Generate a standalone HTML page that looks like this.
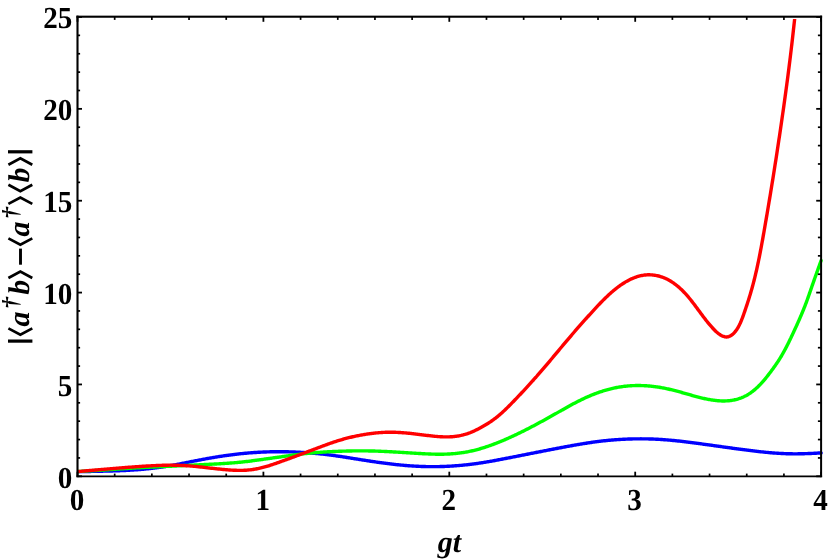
<!DOCTYPE html>
<html><head><meta charset="utf-8"><title>plot</title>
<style>
html,body{margin:0;padding:0;background:#fff;}
body{width:830px;height:560px;overflow:hidden;font-family:"Liberation Serif",serif;}
svg{display:block;will-change:transform;}
text{text-rendering:geometricPrecision;font-family:"Liberation Serif",serif;font-weight:bold;font-size:30px;fill:#000;}
.bi{font-style:italic;}
.dg{font-style:italic;font-size:23px;}
</style></head><body>
<svg width="830" height="560" viewBox="0 0 830 560">
<rect width="830" height="560" fill="#fff"/>
<defs><clipPath id="cp"><rect x="77.5" y="19" width="752.5" height="470"/></clipPath></defs>
<g clip-path="url(#cp)"><g transform="translate(0,0.4)" fill="none" stroke-width="3.4" stroke-linejoin="round" stroke-linecap="round">
<path stroke="#0000ff" d="M77.50,471.24 L78.50,471.23 L79.50,471.21 L80.50,471.20 L81.50,471.18 L82.50,471.16 L83.50,471.15 L84.50,471.13 L85.50,471.11 L86.50,471.10 L87.50,471.08 L88.50,471.06 L89.50,471.05 L90.50,471.03 L91.50,471.01 L92.50,470.99 L93.50,470.98 L94.51,470.96 L95.51,470.94 L96.51,470.92 L97.51,470.90 L98.51,470.88 L99.51,470.86 L100.51,470.84 L101.51,470.82 L102.51,470.79 L103.51,470.77 L104.51,470.75 L105.51,470.72 L106.51,470.70 L107.51,470.67 L108.51,470.65 L109.51,470.62 L110.51,470.59 L111.51,470.56 L112.51,470.53 L113.51,470.50 L114.51,470.47 L115.51,470.43 L116.51,470.40 L117.51,470.36 L118.51,470.33 L119.51,470.29 L120.51,470.25 L121.51,470.21 L122.51,470.17 L123.51,470.12 L124.51,470.08 L125.50,470.03 L126.50,469.98 L127.50,469.93 L128.50,469.88 L129.50,469.82 L130.50,469.76 L131.50,469.71 L132.49,469.64 L133.49,469.58 L134.49,469.51 L135.49,469.45 L136.48,469.38 L137.48,469.30 L138.48,469.23 L139.47,469.15 L140.47,469.07 L141.47,468.99 L142.46,468.90 L143.46,468.81 L144.45,468.72 L145.45,468.62 L146.44,468.53 L147.44,468.43 L148.43,468.32 L149.42,468.22 L150.42,468.11 L151.41,467.99 L152.40,467.88 L153.39,467.76 L154.39,467.64 L155.38,467.51 L156.37,467.38 L157.36,467.25 L158.35,467.12 L159.34,466.98 L160.33,466.84 L161.32,466.70 L162.30,466.55 L163.29,466.40 L164.28,466.25 L165.27,466.10 L166.25,465.94 L167.24,465.78 L168.23,465.62 L169.21,465.45 L170.20,465.28 L171.18,465.11 L172.17,464.94 L173.15,464.76 L174.13,464.58 L175.12,464.40 L176.10,464.22 L177.08,464.04 L178.07,463.85 L179.05,463.66 L180.03,463.47 L181.01,463.28 L181.99,463.09 L182.97,462.89 L183.96,462.70 L184.94,462.50 L185.92,462.31 L186.90,462.11 L187.88,461.92 L188.86,461.72 L189.84,461.52 L190.82,461.33 L191.80,461.13 L192.78,460.94 L193.77,460.74 L194.75,460.55 L195.73,460.36 L196.71,460.17 L197.69,459.97 L198.68,459.78 L199.66,459.59 L200.64,459.41 L201.62,459.22 L202.61,459.03 L203.59,458.85 L204.57,458.66 L205.56,458.48 L206.54,458.30 L207.52,458.12 L208.51,457.95 L209.49,457.77 L210.48,457.60 L211.46,457.43 L212.45,457.26 L213.44,457.09 L214.42,456.92 L215.41,456.76 L216.40,456.60 L217.38,456.44 L218.37,456.28 L219.36,456.12 L220.35,455.97 L221.34,455.82 L222.33,455.67 L223.31,455.52 L224.30,455.38 L225.29,455.23 L226.28,455.09 L227.27,454.95 L228.27,454.82 L229.26,454.68 L230.25,454.55 L231.24,454.42 L232.23,454.30 L233.22,454.17 L234.22,454.05 L235.21,453.93 L236.20,453.81 L237.20,453.70 L238.19,453.59 L239.18,453.48 L240.18,453.37 L241.17,453.27 L242.17,453.17 L243.16,453.07 L244.16,452.97 L245.15,452.88 L246.15,452.79 L247.15,452.70 L248.14,452.61 L249.14,452.53 L250.13,452.45 L251.13,452.37 L252.13,452.30 L253.13,452.23 L254.12,452.16 L255.12,452.09 L256.12,452.03 L257.12,451.97 L258.12,451.91 L259.12,451.85 L260.11,451.80 L261.11,451.75 L262.11,451.70 L263.11,451.66 L264.11,451.61 L265.11,451.57 L266.11,451.54 L267.11,451.50 L268.11,451.47 L269.11,451.44 L270.11,451.41 L271.11,451.39 L272.11,451.37 L273.11,451.35 L274.11,451.33 L275.11,451.32 L276.11,451.31 L277.11,451.30 L278.11,451.29 L279.11,451.29 L280.11,451.29 L281.11,451.30 L282.11,451.30 L283.11,451.31 L284.11,451.32 L285.11,451.34 L286.11,451.36 L287.11,451.38 L288.11,451.40 L289.11,451.43 L290.11,451.46 L291.11,451.49 L292.10,451.52 L293.10,451.56 L294.10,451.60 L295.10,451.64 L296.10,451.68 L297.10,451.73 L298.10,451.78 L299.10,451.83 L300.10,451.88 L301.10,451.94 L302.09,452.00 L303.09,452.06 L304.09,452.12 L305.09,452.19 L306.09,452.25 L307.08,452.32 L308.08,452.40 L309.08,452.47 L310.08,452.55 L311.07,452.63 L312.07,452.71 L313.07,452.79 L314.06,452.88 L315.06,452.97 L316.05,453.06 L317.05,453.15 L318.04,453.25 L319.04,453.35 L320.03,453.45 L321.03,453.56 L322.02,453.66 L323.02,453.77 L324.01,453.88 L325.00,454.00 L326.00,454.11 L326.99,454.23 L327.98,454.35 L328.97,454.48 L329.97,454.61 L330.96,454.73 L331.95,454.87 L332.94,455.00 L333.93,455.14 L334.92,455.27 L335.91,455.42 L336.90,455.56 L337.89,455.70 L338.88,455.85 L339.87,455.99 L340.86,456.14 L341.85,456.29 L342.84,456.44 L343.82,456.59 L344.81,456.75 L345.80,456.90 L346.79,457.06 L347.78,457.21 L348.77,457.37 L349.75,457.52 L350.74,457.68 L351.73,457.84 L352.72,458.00 L353.71,458.16 L354.69,458.31 L355.68,458.47 L356.67,458.63 L357.66,458.79 L358.65,458.95 L359.63,459.10 L360.62,459.26 L361.61,459.42 L362.60,459.58 L363.59,459.73 L364.57,459.89 L365.56,460.04 L366.55,460.19 L367.54,460.35 L368.53,460.50 L369.52,460.65 L370.51,460.80 L371.50,460.95 L372.49,461.10 L373.48,461.24 L374.47,461.39 L375.46,461.53 L376.45,461.68 L377.44,461.82 L378.43,461.96 L379.42,462.10 L380.41,462.23 L381.40,462.37 L382.39,462.51 L383.38,462.64 L384.37,462.77 L385.37,462.90 L386.36,463.03 L387.35,463.15 L388.34,463.28 L389.34,463.40 L390.33,463.52 L391.32,463.64 L392.32,463.75 L393.31,463.87 L394.30,463.98 L395.30,464.09 L396.29,464.19 L397.29,464.30 L398.28,464.40 L399.28,464.50 L400.27,464.60 L401.27,464.69 L402.27,464.78 L403.26,464.87 L404.26,464.96 L405.25,465.05 L406.25,465.13 L407.25,465.21 L408.24,465.29 L409.24,465.36 L410.24,465.43 L411.24,465.50 L412.23,465.57 L413.23,465.63 L414.23,465.69 L415.23,465.75 L416.23,465.81 L417.23,465.86 L418.22,465.91 L419.22,465.96 L420.22,466.00 L421.22,466.04 L422.22,466.08 L423.22,466.11 L424.22,466.14 L425.22,466.17 L426.22,466.19 L427.22,466.21 L428.22,466.23 L429.22,466.24 L430.22,466.25 L431.22,466.26 L432.22,466.26 L433.22,466.26 L434.21,466.26 L435.21,466.25 L436.21,466.24 L437.21,466.23 L438.21,466.21 L439.21,466.19 L440.21,466.16 L441.21,466.13 L442.21,466.10 L443.21,466.07 L444.21,466.03 L445.21,465.99 L446.21,465.95 L447.21,465.90 L448.21,465.85 L449.20,465.80 L450.20,465.74 L451.20,465.68 L452.20,465.62 L453.20,465.55 L454.19,465.48 L455.19,465.41 L456.19,465.34 L457.18,465.26 L458.18,465.18 L459.18,465.09 L460.17,465.01 L461.17,464.92 L462.17,464.82 L463.16,464.73 L464.16,464.63 L465.15,464.53 L466.14,464.42 L467.14,464.31 L468.13,464.20 L469.12,464.08 L470.12,463.97 L471.11,463.84 L472.10,463.72 L473.09,463.59 L474.08,463.46 L475.07,463.33 L476.06,463.19 L477.05,463.05 L478.04,462.91 L479.03,462.77 L480.02,462.62 L481.01,462.47 L482.00,462.32 L482.99,462.16 L483.97,462.00 L484.96,461.84 L485.95,461.68 L486.93,461.52 L487.92,461.35 L488.91,461.18 L489.89,461.01 L490.88,460.84 L491.86,460.66 L492.85,460.48 L493.83,460.31 L494.81,460.13 L495.80,459.94 L496.78,459.76 L497.76,459.58 L498.75,459.39 L499.73,459.21 L500.71,459.02 L501.70,458.83 L502.68,458.64 L503.66,458.46 L504.64,458.27 L505.63,458.08 L506.61,457.89 L507.59,457.70 L508.57,457.51 L509.55,457.31 L510.54,457.12 L511.52,456.93 L512.50,456.74 L513.48,456.54 L514.46,456.35 L515.44,456.16 L516.43,455.97 L517.41,455.77 L518.39,455.58 L519.37,455.38 L520.35,455.19 L521.33,455.00 L522.31,454.80 L523.30,454.61 L524.28,454.41 L525.26,454.22 L526.24,454.03 L527.22,453.83 L528.20,453.64 L529.18,453.44 L530.17,453.25 L531.15,453.05 L532.13,452.86 L533.11,452.67 L534.09,452.47 L535.07,452.28 L536.05,452.08 L537.04,451.89 L538.02,451.70 L539.00,451.50 L539.98,451.31 L540.96,451.12 L541.94,450.92 L542.92,450.73 L543.91,450.54 L544.89,450.34 L545.87,450.15 L546.85,449.96 L547.83,449.77 L548.81,449.58 L549.80,449.39 L550.78,449.19 L551.76,449.00 L552.74,448.81 L553.73,448.62 L554.71,448.43 L555.69,448.25 L556.67,448.06 L557.65,447.87 L558.64,447.68 L559.62,447.50 L560.60,447.31 L561.59,447.12 L562.57,446.94 L563.55,446.75 L564.54,446.57 L565.52,446.39 L566.50,446.21 L567.49,446.03 L568.47,445.85 L569.46,445.67 L570.44,445.49 L571.42,445.31 L572.41,445.13 L573.39,444.96 L574.38,444.78 L575.36,444.61 L576.35,444.44 L577.33,444.27 L578.32,444.10 L579.31,443.93 L580.29,443.76 L581.28,443.60 L582.27,443.43 L583.25,443.27 L584.24,443.11 L585.23,442.95 L586.21,442.80 L587.20,442.64 L588.19,442.49 L589.18,442.34 L590.17,442.19 L591.16,442.05 L592.15,441.90 L593.14,441.76 L594.13,441.63 L595.12,441.49 L596.11,441.36 L597.10,441.23 L598.09,441.10 L599.08,440.98 L600.08,440.86 L601.07,440.74 L602.06,440.63 L603.06,440.52 L604.05,440.41 L605.04,440.30 L606.04,440.20 L607.03,440.10 L608.03,440.00 L609.02,439.90 L610.02,439.81 L611.02,439.72 L612.01,439.64 L613.01,439.56 L614.01,439.48 L615.00,439.40 L616.00,439.33 L617.00,439.25 L617.99,439.19 L618.99,439.12 L619.99,439.06 L620.99,439.00 L621.99,438.94 L622.99,438.89 L623.99,438.84 L624.98,438.79 L625.98,438.75 L626.98,438.71 L627.98,438.67 L628.98,438.63 L629.98,438.60 L630.98,438.57 L631.98,438.54 L632.98,438.51 L633.98,438.49 L634.98,438.47 L635.98,438.46 L636.98,438.45 L637.98,438.44 L638.98,438.43 L639.98,438.43 L640.98,438.42 L641.98,438.43 L642.98,438.43 L643.98,438.44 L644.98,438.45 L645.98,438.47 L646.98,438.49 L647.98,438.51 L648.98,438.53 L649.98,438.56 L650.98,438.59 L651.97,438.63 L652.97,438.66 L653.97,438.71 L654.97,438.75 L655.97,438.80 L656.97,438.85 L657.97,438.90 L658.97,438.96 L659.96,439.02 L660.96,439.08 L661.96,439.14 L662.96,439.21 L663.95,439.28 L664.95,439.36 L665.95,439.43 L666.94,439.51 L667.94,439.60 L668.94,439.68 L669.93,439.77 L670.93,439.86 L671.92,439.95 L672.92,440.05 L673.92,440.15 L674.91,440.25 L675.91,440.35 L676.90,440.45 L677.89,440.56 L678.89,440.66 L679.88,440.77 L680.88,440.88 L681.87,441.00 L682.87,441.11 L683.86,441.23 L684.85,441.34 L685.85,441.46 L686.84,441.58 L687.83,441.70 L688.82,441.83 L689.82,441.95 L690.81,442.08 L691.80,442.20 L692.79,442.33 L693.79,442.46 L694.78,442.59 L695.77,442.72 L696.76,442.85 L697.75,442.98 L698.74,443.12 L699.74,443.25 L700.73,443.39 L701.72,443.52 L702.71,443.66 L703.70,443.79 L704.69,443.93 L705.68,444.07 L706.67,444.20 L707.66,444.34 L708.65,444.48 L709.65,444.62 L710.64,444.76 L711.63,444.90 L712.62,445.04 L713.61,445.17 L714.60,445.31 L715.59,445.45 L716.58,445.59 L717.57,445.73 L718.56,445.87 L719.55,446.01 L720.54,446.15 L721.53,446.29 L722.52,446.42 L723.51,446.56 L724.51,446.70 L725.50,446.84 L726.49,446.98 L727.48,447.11 L728.47,447.25 L729.46,447.39 L730.45,447.53 L731.44,447.66 L732.43,447.80 L733.42,447.94 L734.42,448.07 L735.41,448.21 L736.40,448.34 L737.39,448.48 L738.38,448.61 L739.37,448.74 L740.36,448.88 L741.36,449.01 L742.35,449.14 L743.34,449.27 L744.33,449.40 L745.32,449.53 L746.32,449.65 L747.31,449.78 L748.30,449.91 L749.29,450.03 L750.29,450.15 L751.28,450.28 L752.27,450.40 L753.27,450.52 L754.26,450.63 L755.25,450.75 L756.25,450.87 L757.24,450.98 L758.24,451.09 L759.23,451.20 L760.22,451.31 L761.22,451.42 L762.21,451.53 L763.21,451.63 L764.20,451.73 L765.20,451.83 L766.19,451.93 L767.19,452.02 L768.18,452.12 L769.18,452.21 L770.18,452.29 L771.17,452.38 L772.17,452.46 L773.17,452.54 L774.16,452.62 L775.16,452.69 L776.16,452.76 L777.15,452.83 L778.15,452.90 L779.15,452.96 L780.15,453.01 L781.14,453.07 L782.14,453.12 L783.14,453.16 L784.14,453.21 L785.14,453.25 L786.13,453.28 L787.13,453.32 L788.13,453.34 L789.13,453.37 L790.13,453.39 L791.13,453.41 L792.13,453.42 L793.13,453.43 L794.13,453.43 L795.12,453.44 L796.12,453.44 L797.12,453.43 L798.12,453.42 L799.12,453.41 L800.12,453.39 L801.12,453.37 L802.12,453.35 L803.12,453.32 L804.12,453.30 L805.12,453.27 L806.12,453.23 L807.12,453.19 L808.11,453.16 L809.11,453.11 L810.11,453.07 L811.11,453.03 L812.11,452.98 L813.11,452.93 L814.11,452.88 L815.11,452.83 L816.11,452.78 L817.11,452.73 L818.11,452.67 L819.10,452.62 L820.10,452.57 L821.10,452.51"/>
<path stroke="#00ff00" d="M77.50,471.20 L78.50,471.14 L79.50,471.08 L80.50,471.02 L81.49,470.96 L82.49,470.89 L83.49,470.83 L84.49,470.77 L85.49,470.71 L86.49,470.65 L87.49,470.59 L88.49,470.52 L89.48,470.46 L90.48,470.40 L91.48,470.34 L92.48,470.28 L93.48,470.21 L94.48,470.15 L95.48,470.09 L96.47,470.03 L97.47,469.97 L98.47,469.90 L99.47,469.84 L100.47,469.78 L101.47,469.72 L102.47,469.65 L103.47,469.59 L104.46,469.53 L105.46,469.47 L106.46,469.40 L107.46,469.34 L108.46,469.28 L109.46,469.21 L110.46,469.15 L111.45,469.09 L112.45,469.03 L113.45,468.96 L114.45,468.90 L115.45,468.83 L116.45,468.77 L117.45,468.71 L118.44,468.64 L119.44,468.58 L120.44,468.51 L121.44,468.45 L122.44,468.39 L123.44,468.32 L124.44,468.26 L125.43,468.20 L126.43,468.13 L127.43,468.07 L128.43,468.01 L129.43,467.94 L130.43,467.88 L131.43,467.82 L132.42,467.76 L133.42,467.70 L134.42,467.64 L135.42,467.58 L136.42,467.52 L137.42,467.46 L138.42,467.40 L139.42,467.34 L140.41,467.28 L141.41,467.22 L142.41,467.17 L143.41,467.11 L144.41,467.05 L145.41,467.00 L146.41,466.95 L147.41,466.89 L148.41,466.84 L149.41,466.79 L150.40,466.74 L151.40,466.69 L152.40,466.64 L153.40,466.59 L154.40,466.54 L155.40,466.49 L156.40,466.45 L157.40,466.40 L158.40,466.36 L159.40,466.31 L160.40,466.27 L161.40,466.22 L162.40,466.18 L163.40,466.13 L164.40,466.09 L165.40,466.05 L166.40,466.00 L167.40,465.96 L168.40,465.91 L169.39,465.87 L170.39,465.82 L171.39,465.78 L172.39,465.73 L173.39,465.68 L174.39,465.63 L175.39,465.59 L176.39,465.54 L177.39,465.49 L178.39,465.44 L179.39,465.39 L180.39,465.34 L181.39,465.29 L182.39,465.24 L183.39,465.19 L184.39,465.14 L185.38,465.09 L186.38,465.04 L187.38,464.99 L188.38,464.94 L189.38,464.89 L190.38,464.84 L191.38,464.79 L192.38,464.74 L193.38,464.69 L194.38,464.64 L195.38,464.59 L196.38,464.54 L197.38,464.49 L198.38,464.44 L199.38,464.38 L200.38,464.33 L201.37,464.28 L202.37,464.23 L203.37,464.18 L204.37,464.13 L205.37,464.09 L206.37,464.04 L207.37,463.99 L208.37,463.94 L209.37,463.89 L210.37,463.84 L211.37,463.79 L212.37,463.74 L213.37,463.69 L214.37,463.64 L215.37,463.59 L216.37,463.54 L217.37,463.48 L218.36,463.43 L219.36,463.37 L220.36,463.32 L221.36,463.26 L222.36,463.20 L223.36,463.14 L224.36,463.08 L225.36,463.02 L226.35,462.95 L227.35,462.88 L228.35,462.81 L229.35,462.74 L230.35,462.67 L231.34,462.59 L232.34,462.51 L233.34,462.43 L234.33,462.35 L235.33,462.26 L236.33,462.17 L237.32,462.08 L238.32,461.99 L239.31,461.90 L240.31,461.80 L241.30,461.70 L242.30,461.59 L243.29,461.49 L244.29,461.38 L245.28,461.27 L246.28,461.15 L247.27,461.04 L248.26,460.92 L249.25,460.79 L250.25,460.67 L251.24,460.54 L252.23,460.41 L253.22,460.28 L254.21,460.15 L255.21,460.02 L256.20,459.88 L257.19,459.75 L258.18,459.61 L259.17,459.47 L260.16,459.33 L261.15,459.19 L262.14,459.05 L263.13,458.91 L264.13,458.77 L265.12,458.63 L266.11,458.49 L267.10,458.35 L268.09,458.21 L269.08,458.07 L270.07,457.93 L271.06,457.80 L272.05,457.66 L273.04,457.52 L274.03,457.38 L275.03,457.24 L276.02,457.10 L277.01,456.96 L278.00,456.83 L278.99,456.69 L279.98,456.55 L280.97,456.41 L281.96,456.27 L282.95,456.13 L283.94,455.99 L284.93,455.85 L285.92,455.71 L286.91,455.57 L287.91,455.43 L288.90,455.29 L289.89,455.15 L290.88,455.01 L291.87,454.87 L292.86,454.74 L293.85,454.60 L294.84,454.47 L295.83,454.34 L296.83,454.21 L297.82,454.08 L298.81,453.95 L299.80,453.83 L300.80,453.71 L301.79,453.59 L302.78,453.48 L303.78,453.37 L304.77,453.26 L305.76,453.15 L306.76,453.05 L307.75,452.95 L308.75,452.85 L309.75,452.75 L310.74,452.66 L311.74,452.57 L312.73,452.48 L313.73,452.39 L314.73,452.31 L315.72,452.23 L316.72,452.15 L317.72,452.07 L318.72,452.00 L319.71,451.93 L320.71,451.86 L321.71,451.79 L322.71,451.72 L323.71,451.66 L324.71,451.60 L325.71,451.54 L326.70,451.48 L327.70,451.42 L328.70,451.37 L329.70,451.32 L330.70,451.27 L331.70,451.22 L332.70,451.17 L333.70,451.12 L334.70,451.08 L335.70,451.03 L336.70,450.99 L337.70,450.95 L338.70,450.91 L339.70,450.88 L340.70,450.84 L341.70,450.80 L342.70,450.77 L343.70,450.74 L344.70,450.71 L345.70,450.68 L346.70,450.65 L347.70,450.63 L348.70,450.60 L349.70,450.58 L350.70,450.56 L351.70,450.54 L352.70,450.52 L353.70,450.51 L354.70,450.50 L355.71,450.49 L356.71,450.48 L357.71,450.47 L358.71,450.46 L359.71,450.46 L360.71,450.46 L361.71,450.46 L362.71,450.46 L363.71,450.47 L364.71,450.48 L365.71,450.49 L366.71,450.50 L367.71,450.51 L368.71,450.53 L369.71,450.55 L370.71,450.57 L371.71,450.59 L372.71,450.62 L373.71,450.64 L374.71,450.67 L375.71,450.70 L376.71,450.74 L377.71,450.77 L378.71,450.81 L379.71,450.85 L380.71,450.89 L381.71,450.93 L382.71,450.97 L383.71,451.02 L384.71,451.07 L385.71,451.11 L386.71,451.16 L387.71,451.21 L388.71,451.26 L389.70,451.32 L390.70,451.37 L391.70,451.42 L392.70,451.48 L393.70,451.53 L394.70,451.59 L395.70,451.65 L396.70,451.71 L397.70,451.77 L398.70,451.82 L399.70,451.88 L400.69,451.94 L401.69,452.01 L402.69,452.07 L403.69,452.13 L404.69,452.19 L405.69,452.25 L406.69,452.31 L407.69,452.38 L408.69,452.44 L409.69,452.50 L410.68,452.56 L411.68,452.63 L412.68,452.69 L413.68,452.75 L414.68,452.81 L415.68,452.87 L416.68,452.93 L417.68,452.99 L418.68,453.05 L419.68,453.11 L420.68,453.17 L421.68,453.22 L422.68,453.28 L423.68,453.33 L424.68,453.38 L425.68,453.43 L426.68,453.48 L427.68,453.52 L428.68,453.56 L429.68,453.60 L430.68,453.64 L431.68,453.68 L432.68,453.71 L433.68,453.74 L434.69,453.76 L435.69,453.78 L436.69,453.80 L437.69,453.81 L438.69,453.82 L439.69,453.82 L440.69,453.82 L441.69,453.81 L442.69,453.80 L443.69,453.78 L444.69,453.76 L445.70,453.73 L446.70,453.69 L447.70,453.65 L448.69,453.60 L449.69,453.55 L450.69,453.49 L451.69,453.42 L452.69,453.35 L453.68,453.27 L454.68,453.19 L455.67,453.09 L456.67,452.99 L457.66,452.89 L458.65,452.77 L459.65,452.65 L460.64,452.52 L461.63,452.39 L462.61,452.24 L463.60,452.09 L464.59,451.93 L465.57,451.77 L466.55,451.59 L467.54,451.41 L468.51,451.22 L469.49,451.02 L470.47,450.81 L471.45,450.60 L472.42,450.37 L473.39,450.14 L474.36,449.91 L475.33,449.66 L476.30,449.41 L477.26,449.15 L478.23,448.89 L479.19,448.61 L480.15,448.34 L481.11,448.05 L482.07,447.76 L483.02,447.47 L483.98,447.17 L484.93,446.86 L485.88,446.55 L486.83,446.23 L487.78,445.91 L488.73,445.59 L489.67,445.26 L490.62,444.92 L491.56,444.58 L492.50,444.24 L493.44,443.89 L494.37,443.53 L495.31,443.18 L496.24,442.82 L497.18,442.45 L498.11,442.08 L499.04,441.71 L499.97,441.34 L500.89,440.96 L501.82,440.57 L502.74,440.19 L503.67,439.80 L504.59,439.41 L505.51,439.01 L506.43,438.61 L507.34,438.21 L508.26,437.81 L509.17,437.40 L510.09,436.99 L511.00,436.57 L511.91,436.16 L512.82,435.74 L513.73,435.32 L514.64,434.90 L515.54,434.47 L516.45,434.04 L517.35,433.61 L518.25,433.18 L519.15,432.74 L520.05,432.30 L520.95,431.86 L521.85,431.42 L522.75,430.97 L523.64,430.53 L524.54,430.08 L525.43,429.63 L526.32,429.17 L527.21,428.72 L528.10,428.26 L528.99,427.80 L529.88,427.34 L530.77,426.88 L531.66,426.42 L532.54,425.95 L533.43,425.49 L534.31,425.02 L535.20,424.55 L536.08,424.08 L536.96,423.60 L537.84,423.13 L538.72,422.66 L539.60,422.18 L540.48,421.70 L541.36,421.22 L542.24,420.74 L543.12,420.26 L543.99,419.78 L544.87,419.30 L545.75,418.82 L546.62,418.33 L547.50,417.85 L548.37,417.36 L549.25,416.88 L550.12,416.39 L551.00,415.90 L551.87,415.41 L552.74,414.92 L553.61,414.43 L554.49,413.94 L555.36,413.45 L556.23,412.96 L557.10,412.47 L557.97,411.98 L558.84,411.48 L559.71,410.99 L560.58,410.50 L561.45,410.00 L562.32,409.51 L563.19,409.01 L564.07,408.52 L564.94,408.03 L565.81,407.54 L566.68,407.05 L567.56,406.56 L568.43,406.07 L569.31,405.59 L570.19,405.11 L571.06,404.63 L571.94,404.15 L572.83,403.68 L573.71,403.21 L574.59,402.74 L575.48,402.28 L576.37,401.82 L577.26,401.36 L578.15,400.91 L579.05,400.46 L579.94,400.01 L580.84,399.57 L581.74,399.13 L582.64,398.70 L583.55,398.27 L584.45,397.85 L585.36,397.43 L586.28,397.01 L587.19,396.61 L588.10,396.20 L589.02,395.80 L589.94,395.41 L590.87,395.03 L591.79,394.64 L592.72,394.27 L593.65,393.90 L594.58,393.54 L595.52,393.18 L596.46,392.83 L597.40,392.49 L598.34,392.15 L599.28,391.82 L600.23,391.50 L601.18,391.18 L602.13,390.87 L603.08,390.57 L604.04,390.27 L605.00,389.98 L605.96,389.70 L606.92,389.43 L607.88,389.17 L608.85,388.91 L609.82,388.66 L610.79,388.42 L611.76,388.18 L612.73,387.96 L613.71,387.74 L614.69,387.53 L615.67,387.33 L616.65,387.14 L617.63,386.95 L618.62,386.78 L619.60,386.61 L620.59,386.45 L621.58,386.30 L622.57,386.16 L623.56,386.03 L624.55,385.91 L625.54,385.80 L626.54,385.69 L627.53,385.60 L628.53,385.51 L629.53,385.44 L630.52,385.37 L631.52,385.31 L632.52,385.26 L633.52,385.22 L634.52,385.18 L635.52,385.16 L636.52,385.14 L637.52,385.13 L638.52,385.13 L639.52,385.14 L640.52,385.15 L641.52,385.18 L642.52,385.21 L643.52,385.25 L644.52,385.29 L645.52,385.35 L646.52,385.41 L647.51,385.48 L648.51,385.55 L649.51,385.64 L650.50,385.73 L651.50,385.83 L652.49,385.94 L653.49,386.05 L654.48,386.18 L655.47,386.31 L656.46,386.44 L657.45,386.59 L658.44,386.74 L659.43,386.90 L660.41,387.07 L661.40,387.24 L662.38,387.42 L663.37,387.60 L664.35,387.79 L665.33,387.99 L666.31,388.20 L667.29,388.40 L668.26,388.62 L669.24,388.84 L670.22,389.07 L671.19,389.30 L672.16,389.53 L673.14,389.77 L674.11,390.02 L675.08,390.26 L676.05,390.52 L677.01,390.77 L677.98,391.03 L678.95,391.29 L679.92,391.56 L680.88,391.83 L681.85,392.10 L682.81,392.37 L683.78,392.64 L684.74,392.92 L685.71,393.19 L686.67,393.47 L687.63,393.75 L688.60,394.02 L689.56,394.30 L690.53,394.57 L691.49,394.85 L692.46,395.12 L693.43,395.39 L694.39,395.66 L695.36,395.92 L696.33,396.18 L697.30,396.44 L698.27,396.70 L699.24,396.95 L700.21,397.19 L701.19,397.43 L702.16,397.67 L703.14,397.90 L704.12,398.12 L705.10,398.33 L706.08,398.54 L707.06,398.74 L708.04,398.94 L709.03,399.12 L710.02,399.30 L711.00,399.46 L711.99,399.62 L712.98,399.76 L713.97,399.90 L714.97,400.02 L715.96,400.14 L716.96,400.24 L717.96,400.33 L718.95,400.40 L719.95,400.46 L720.95,400.51 L721.95,400.54 L722.95,400.56 L723.95,400.56 L724.95,400.54 L725.95,400.51 L726.95,400.46 L727.95,400.39 L728.95,400.30 L729.94,400.20 L730.93,400.07 L731.92,399.93 L732.90,399.76 L733.88,399.58 L734.86,399.37 L735.83,399.14 L736.79,398.89 L737.75,398.62 L738.70,398.33 L739.64,398.02 L740.58,397.68 L741.51,397.33 L742.43,396.95 L743.34,396.56 L744.24,396.14 L745.13,395.70 L746.02,395.25 L746.89,394.77 L747.75,394.27 L748.60,393.76 L749.43,393.22 L750.26,392.67 L751.08,392.10 L751.88,391.51 L752.68,390.91 L753.47,390.29 L754.24,389.66 L755.01,389.02 L755.76,388.36 L756.51,387.69 L757.25,387.01 L757.97,386.32 L758.69,385.61 L759.40,384.90 L760.10,384.18 L760.79,383.45 L761.47,382.72 L762.15,381.97 L762.82,381.22 L763.48,380.46 L764.13,379.69 L764.78,378.92 L765.42,378.15 L766.06,377.37 L766.69,376.58 L767.31,375.79 L767.93,375.00 L768.55,374.20 L769.16,373.40 L769.77,372.60 L770.38,371.80 L770.98,371.00 L771.59,370.19 L772.18,369.38 L772.78,368.57 L773.37,367.76 L773.95,366.94 L774.54,366.13 L775.11,365.31 L775.69,364.49 L776.25,363.66 L776.82,362.83 L777.38,362.00 L777.93,361.17 L778.48,360.33 L779.02,359.49 L779.55,358.64 L780.08,357.79 L780.60,356.94 L781.12,356.09 L781.63,355.23 L782.13,354.36 L782.63,353.50 L783.12,352.63 L783.61,351.76 L784.09,350.88 L784.57,350.00 L785.05,349.12 L785.51,348.24 L785.98,347.35 L786.44,346.46 L786.90,345.57 L787.35,344.68 L787.80,343.79 L788.25,342.89 L788.69,341.99 L789.13,341.09 L789.57,340.19 L790.00,339.29 L790.43,338.39 L790.87,337.49 L791.29,336.58 L791.72,335.68 L792.15,334.77 L792.58,333.86 L793.00,332.96 L793.43,332.05 L793.85,331.14 L794.27,330.23 L794.69,329.32 L795.11,328.42 L795.53,327.51 L795.95,326.60 L796.36,325.68 L796.78,324.77 L797.19,323.86 L797.60,322.95 L798.01,322.03 L798.42,321.12 L798.82,320.20 L799.23,319.29 L799.63,318.37 L800.03,317.45 L800.42,316.53 L800.82,315.61 L801.21,314.69 L801.60,313.77 L801.99,312.85 L802.37,311.93 L802.75,311.00 L803.13,310.08 L803.51,309.15 L803.88,308.22 L804.25,307.29 L804.62,306.36 L804.99,305.43 L805.35,304.50 L805.70,303.57 L806.06,302.63 L806.41,301.69 L806.76,300.76 L807.10,299.82 L807.44,298.88 L807.78,297.94 L808.11,296.99 L808.45,296.05 L808.78,295.11 L809.11,294.16 L809.43,293.22 L809.76,292.27 L810.09,291.33 L810.41,290.38 L810.74,289.44 L811.07,288.49 L811.40,287.55 L811.72,286.60 L812.05,285.66 L812.38,284.71 L812.72,283.77 L813.05,282.82 L813.38,281.88 L813.71,280.94 L814.04,279.99 L814.38,279.05 L814.71,278.11 L815.04,277.16 L815.38,276.22 L815.71,275.28 L816.05,274.33 L816.38,273.39 L816.72,272.45 L817.05,271.51 L817.39,270.56 L817.73,269.62 L818.06,268.68 L818.40,267.74 L818.74,266.79 L819.07,265.85 L819.41,264.91 L819.75,263.97 L820.08,263.03 L820.42,262.08 L820.76,261.14 L821.10,260.20"/>
<path stroke="#ff0000" d="M77.50,471.20 L78.50,471.11 L79.49,471.02 L80.49,470.93 L81.49,470.85 L82.48,470.76 L83.48,470.67 L84.48,470.58 L85.47,470.50 L86.47,470.41 L87.46,470.32 L88.46,470.24 L89.46,470.15 L90.45,470.06 L91.45,469.97 L92.45,469.89 L93.44,469.80 L94.44,469.71 L95.44,469.63 L96.43,469.54 L97.43,469.46 L98.43,469.37 L99.42,469.28 L100.42,469.20 L101.42,469.11 L102.41,469.03 L103.41,468.94 L104.41,468.86 L105.40,468.77 L106.40,468.69 L107.40,468.60 L108.39,468.52 L109.39,468.43 L110.39,468.35 L111.39,468.27 L112.38,468.18 L113.38,468.10 L114.38,468.02 L115.37,467.94 L116.37,467.85 L117.37,467.77 L118.37,467.69 L119.36,467.61 L120.36,467.53 L121.36,467.45 L122.35,467.37 L123.35,467.29 L124.35,467.21 L125.35,467.13 L126.34,467.05 L127.34,466.98 L128.34,466.90 L129.34,466.82 L130.33,466.75 L131.33,466.67 L132.33,466.60 L133.33,466.53 L134.33,466.46 L135.32,466.38 L136.32,466.31 L137.32,466.24 L138.32,466.18 L139.32,466.11 L140.32,466.04 L141.31,465.98 L142.31,465.91 L143.31,465.85 L144.31,465.78 L145.31,465.72 L146.31,465.66 L147.31,465.60 L148.30,465.55 L149.30,465.49 L150.30,465.43 L151.30,465.38 L152.30,465.33 L153.30,465.27 L154.30,465.22 L155.30,465.18 L156.30,465.13 L157.30,465.09 L158.30,465.04 L159.30,465.00 L160.30,464.97 L161.30,464.93 L162.30,464.90 L163.30,464.87 L164.30,464.85 L165.30,464.82 L166.29,464.81 L167.29,464.79 L168.29,464.78 L169.29,464.77 L170.29,464.77 L171.29,464.77 L172.29,464.78 L173.29,464.79 L174.29,464.80 L175.29,464.82 L176.29,464.84 L177.29,464.87 L178.29,464.90 L179.29,464.93 L180.29,464.97 L181.29,465.01 L182.29,465.06 L183.28,465.11 L184.28,465.17 L185.28,465.23 L186.28,465.29 L187.28,465.36 L188.27,465.43 L189.27,465.50 L190.27,465.58 L191.26,465.67 L192.26,465.75 L193.26,465.84 L194.25,465.94 L195.25,466.03 L196.24,466.13 L197.24,466.23 L198.23,466.34 L199.23,466.44 L200.22,466.55 L201.22,466.66 L202.21,466.77 L203.21,466.88 L204.20,466.99 L205.20,467.10 L206.19,467.22 L207.19,467.33 L208.19,467.45 L209.18,467.56 L210.18,467.67 L211.17,467.79 L212.17,467.90 L213.16,468.01 L214.16,468.12 L215.15,468.23 L216.15,468.34 L217.15,468.44 L218.14,468.55 L219.14,468.65 L220.14,468.75 L221.14,468.85 L222.13,468.95 L223.13,469.04 L224.13,469.13 L225.13,469.22 L226.12,469.31 L227.12,469.39 L228.12,469.47 L229.12,469.55 L230.12,469.62 L231.12,469.68 L232.12,469.74 L233.12,469.80 L234.12,469.85 L235.12,469.89 L236.12,469.92 L237.12,469.95 L238.12,469.97 L239.11,469.98 L240.11,469.98 L241.11,469.97 L242.11,469.95 L243.11,469.93 L244.10,469.89 L245.10,469.84 L246.10,469.78 L247.09,469.71 L248.08,469.63 L249.08,469.53 L250.07,469.43 L251.06,469.32 L252.04,469.19 L253.03,469.05 L254.02,468.90 L255.00,468.74 L255.98,468.57 L256.96,468.39 L257.94,468.19 L258.91,467.99 L259.89,467.77 L260.86,467.54 L261.83,467.31 L262.79,467.06 L263.76,466.80 L264.72,466.54 L265.68,466.27 L266.64,465.99 L267.60,465.70 L268.56,465.41 L269.51,465.11 L270.46,464.80 L271.42,464.49 L272.37,464.18 L273.32,463.86 L274.26,463.53 L275.21,463.21 L276.16,462.88 L277.10,462.55 L278.05,462.22 L278.99,461.89 L279.94,461.55 L280.88,461.21 L281.83,460.87 L282.77,460.54 L283.71,460.20 L284.65,459.86 L285.59,459.52 L286.54,459.17 L287.48,458.83 L288.42,458.49 L289.36,458.15 L290.30,457.80 L291.24,457.46 L292.18,457.11 L293.12,456.77 L294.06,456.42 L294.99,456.07 L295.93,455.73 L296.87,455.38 L297.81,455.03 L298.75,454.68 L299.68,454.33 L300.62,453.98 L301.56,453.63 L302.50,453.28 L303.43,452.93 L304.37,452.58 L305.31,452.23 L306.24,451.87 L307.18,451.52 L308.12,451.17 L309.05,450.81 L309.99,450.46 L310.92,450.11 L311.86,449.75 L312.80,449.40 L313.73,449.05 L314.67,448.69 L315.61,448.34 L316.54,447.99 L317.48,447.63 L318.42,447.28 L319.35,446.93 L320.29,446.58 L321.23,446.22 L322.16,445.87 L323.10,445.52 L324.04,445.17 L324.98,444.83 L325.92,444.48 L326.86,444.14 L327.80,443.80 L328.74,443.46 L329.68,443.12 L330.62,442.79 L331.57,442.46 L332.51,442.14 L333.46,441.81 L334.41,441.50 L335.36,441.18 L336.31,440.87 L337.26,440.57 L338.21,440.27 L339.17,439.97 L340.13,439.68 L341.08,439.39 L342.04,439.11 L343.01,438.84 L343.97,438.57 L344.93,438.30 L345.90,438.05 L346.86,437.79 L347.83,437.54 L348.80,437.30 L349.77,437.06 L350.75,436.83 L351.72,436.60 L352.70,436.38 L353.67,436.16 L354.65,435.95 L355.63,435.74 L356.61,435.54 L357.59,435.34 L358.57,435.15 L359.55,434.96 L360.54,434.78 L361.52,434.61 L362.51,434.43 L363.50,434.27 L364.48,434.10 L365.47,433.94 L366.46,433.79 L367.45,433.64 L368.44,433.49 L369.43,433.35 L370.42,433.22 L371.41,433.09 L372.41,432.96 L373.40,432.84 L374.39,432.73 L375.39,432.62 L376.38,432.52 L377.38,432.42 L378.37,432.34 L379.37,432.26 L380.37,432.18 L381.36,432.11 L382.36,432.05 L383.36,432.00 L384.36,431.95 L385.35,431.91 L386.35,431.88 L387.35,431.85 L388.35,431.83 L389.35,431.82 L390.35,431.82 L391.35,431.82 L392.34,431.83 L393.34,431.85 L394.34,431.87 L395.34,431.90 L396.34,431.94 L397.34,431.99 L398.33,432.04 L399.33,432.09 L400.33,432.15 L401.33,432.22 L402.33,432.29 L403.32,432.37 L404.32,432.45 L405.32,432.53 L406.32,432.62 L407.31,432.72 L408.31,432.81 L409.31,432.91 L410.30,433.02 L411.30,433.13 L412.30,433.24 L413.29,433.35 L414.29,433.46 L415.28,433.58 L416.28,433.70 L417.28,433.82 L418.27,433.94 L419.27,434.06 L420.26,434.18 L421.26,434.31 L422.26,434.43 L423.25,434.55 L424.25,434.68 L425.25,434.80 L426.24,434.92 L427.24,435.04 L428.24,435.16 L429.24,435.28 L430.24,435.40 L431.23,435.51 L432.23,435.62 L433.23,435.73 L434.23,435.83 L435.23,435.92 L436.23,436.02 L437.23,436.10 L438.23,436.18 L439.23,436.25 L440.23,436.32 L441.23,436.37 L442.23,436.42 L443.23,436.46 L444.23,436.49 L445.23,436.51 L446.23,436.51 L447.23,436.51 L448.23,436.49 L449.22,436.46 L450.22,436.42 L451.22,436.36 L452.21,436.30 L453.20,436.22 L454.19,436.12 L455.18,436.01 L456.17,435.89 L457.15,435.75 L458.13,435.59 L459.11,435.42 L460.08,435.23 L461.06,435.03 L462.02,434.81 L462.99,434.58 L463.95,434.32 L464.90,434.06 L465.85,433.77 L466.80,433.47 L467.74,433.15 L468.68,432.82 L469.61,432.47 L470.54,432.11 L471.46,431.73 L472.38,431.34 L473.29,430.94 L474.20,430.53 L475.11,430.10 L476.01,429.66 L476.91,429.22 L477.80,428.77 L478.69,428.30 L479.58,427.83 L480.46,427.36 L481.34,426.88 L482.22,426.39 L483.10,425.89 L483.97,425.39 L484.83,424.89 L485.70,424.37 L486.55,423.85 L487.41,423.32 L488.26,422.79 L489.10,422.25 L489.94,421.70 L490.77,421.14 L491.60,420.58 L492.42,420.01 L493.24,419.43 L494.05,418.84 L494.85,418.25 L495.65,417.64 L496.44,417.03 L497.23,416.41 L498.01,415.78 L498.78,415.15 L499.54,414.50 L500.29,413.85 L501.04,413.19 L501.78,412.52 L502.52,411.84 L503.25,411.16 L503.98,410.48 L504.71,409.79 L505.43,409.10 L506.15,408.40 L506.86,407.70 L507.58,407.00 L508.29,406.30 L508.99,405.59 L509.70,404.88 L510.40,404.17 L511.10,403.45 L511.80,402.74 L512.50,402.02 L513.20,401.30 L513.90,400.58 L514.59,399.86 L515.28,399.14 L515.98,398.42 L516.67,397.69 L517.36,396.97 L518.05,396.24 L518.74,395.52 L519.43,394.79 L520.12,394.07 L520.81,393.34 L521.49,392.61 L522.18,391.88 L522.86,391.15 L523.55,390.42 L524.23,389.69 L524.91,388.95 L525.59,388.22 L526.27,387.48 L526.95,386.75 L527.62,386.01 L528.30,385.27 L528.97,384.54 L529.65,383.80 L530.32,383.06 L530.99,382.32 L531.66,381.57 L532.33,380.83 L533.00,380.09 L533.67,379.34 L534.33,378.59 L535.00,377.84 L535.66,377.10 L536.32,376.35 L536.98,375.59 L537.64,374.84 L538.30,374.09 L538.96,373.33 L539.61,372.58 L540.27,371.82 L540.92,371.07 L541.57,370.31 L542.23,369.55 L542.88,368.79 L543.53,368.03 L544.17,367.27 L544.82,366.51 L545.47,365.74 L546.12,364.98 L546.76,364.22 L547.41,363.45 L548.05,362.69 L548.70,361.92 L549.34,361.16 L549.99,360.39 L550.63,359.62 L551.27,358.86 L551.92,358.09 L552.56,357.32 L553.20,356.56 L553.84,355.79 L554.48,355.02 L555.13,354.26 L555.77,353.49 L556.41,352.72 L557.05,351.95 L557.69,351.19 L558.33,350.42 L558.98,349.65 L559.62,348.88 L560.26,348.12 L560.90,347.35 L561.55,346.59 L562.19,345.82 L562.83,345.05 L563.48,344.29 L564.12,343.52 L564.77,342.76 L565.41,341.99 L566.06,341.23 L566.70,340.47 L567.35,339.70 L568.00,338.94 L568.64,338.18 L569.29,337.41 L569.94,336.65 L570.58,335.89 L571.23,335.13 L571.88,334.37 L572.53,333.61 L573.18,332.85 L573.84,332.09 L574.49,331.33 L575.14,330.58 L575.80,329.82 L576.46,329.07 L577.12,328.31 L577.77,327.56 L578.43,326.81 L579.10,326.06 L579.76,325.31 L580.42,324.56 L581.08,323.81 L581.75,323.06 L582.41,322.32 L583.08,321.57 L583.74,320.82 L584.41,320.07 L585.07,319.33 L585.74,318.58 L586.41,317.84 L587.08,317.09 L587.74,316.35 L588.41,315.60 L589.08,314.86 L589.75,314.12 L590.43,313.37 L591.10,312.63 L591.77,311.89 L592.45,311.15 L593.12,310.42 L593.80,309.68 L594.48,308.94 L595.16,308.21 L595.84,307.47 L596.52,306.74 L597.21,306.01 L597.89,305.28 L598.58,304.55 L599.27,303.82 L599.97,303.10 L600.66,302.38 L601.36,301.66 L602.06,300.94 L602.76,300.22 L603.47,299.51 L604.18,298.80 L604.89,298.10 L605.61,297.40 L606.33,296.70 L607.06,296.00 L607.79,295.32 L608.52,294.63 L609.26,293.95 L610.01,293.28 L610.76,292.61 L611.51,291.94 L612.27,291.28 L613.04,290.63 L613.81,289.98 L614.58,289.34 L615.37,288.71 L616.16,288.08 L616.95,287.47 L617.75,286.86 L618.56,286.25 L619.37,285.66 L620.19,285.07 L621.02,284.50 L621.85,283.93 L622.69,283.38 L623.53,282.83 L624.39,282.30 L625.25,281.77 L626.11,281.26 L626.99,280.76 L627.87,280.28 L628.75,279.80 L629.65,279.35 L630.55,278.91 L631.45,278.49 L632.37,278.08 L633.29,277.69 L634.21,277.32 L635.15,276.97 L636.09,276.64 L637.04,276.33 L637.99,276.04 L638.95,275.77 L639.91,275.53 L640.88,275.31 L641.85,275.11 L642.82,274.93 L643.80,274.78 L644.78,274.65 L645.76,274.55 L646.75,274.47 L647.74,274.42 L648.72,274.40 L649.71,274.40 L650.70,274.43 L651.68,274.49 L652.67,274.57 L653.65,274.67 L654.63,274.81 L655.61,274.96 L656.58,275.15 L657.55,275.35 L658.51,275.58 L659.47,275.84 L660.42,276.12 L661.37,276.42 L662.30,276.74 L663.23,277.09 L664.16,277.46 L665.07,277.85 L665.98,278.26 L666.87,278.69 L667.76,279.15 L668.64,279.62 L669.51,280.11 L670.37,280.61 L671.23,281.14 L672.07,281.68 L672.90,282.23 L673.73,282.81 L674.54,283.39 L675.34,283.99 L676.14,284.60 L676.92,285.23 L677.70,285.86 L678.46,286.51 L679.22,287.17 L679.97,287.84 L680.71,288.52 L681.44,289.21 L682.16,289.91 L682.87,290.62 L683.58,291.33 L684.27,292.06 L684.96,292.79 L685.64,293.53 L686.32,294.28 L686.98,295.03 L687.64,295.79 L688.30,296.55 L688.94,297.32 L689.58,298.10 L690.22,298.87 L690.85,299.66 L691.47,300.44 L692.09,301.23 L692.70,302.03 L693.32,302.82 L693.92,303.62 L694.53,304.43 L695.13,305.23 L695.73,306.04 L696.33,306.85 L696.93,307.66 L697.53,308.47 L698.12,309.28 L698.72,310.09 L699.31,310.90 L699.91,311.72 L700.51,312.53 L701.11,313.34 L701.71,314.15 L702.31,314.96 L702.92,315.77 L703.53,316.58 L704.14,317.38 L704.76,318.19 L705.38,318.99 L706.00,319.79 L706.63,320.58 L707.27,321.38 L707.91,322.17 L708.56,322.96 L709.21,323.74 L709.87,324.52 L710.54,325.30 L711.21,326.07 L711.89,326.83 L712.59,327.60 L713.29,328.35 L714.00,329.10 L714.72,329.84 L715.45,330.56 L716.19,331.26 L716.95,331.94 L717.72,332.60 L718.51,333.22 L719.31,333.81 L720.13,334.36 L720.97,334.88 L721.82,335.34 L722.69,335.74 L723.57,336.08 L724.45,336.34 L725.34,336.50 L726.22,336.57 L727.11,336.53 L727.99,336.38 L728.86,336.13 L729.71,335.80 L730.55,335.38 L731.36,334.89 L732.15,334.33 L732.90,333.71 L733.62,333.04 L734.31,332.32 L734.98,331.57 L735.61,330.78 L736.21,329.96 L736.79,329.11 L737.34,328.24 L737.87,327.36 L738.38,326.47 L738.87,325.57 L739.34,324.66 L739.78,323.74 L740.22,322.81 L740.63,321.88 L741.04,320.95 L741.43,320.01 L741.81,319.06 L742.17,318.11 L742.53,317.16 L742.88,316.21 L743.23,315.25 L743.57,314.30 L743.90,313.34 L744.23,312.38 L744.56,311.43 L744.89,310.47 L745.22,309.52 L745.54,308.56 L745.86,307.61 L746.18,306.66 L746.50,305.71 L746.82,304.75 L747.13,303.80 L747.44,302.85 L747.75,301.89 L748.06,300.94 L748.36,299.99 L748.66,299.04 L748.96,298.08 L749.26,297.13 L749.55,296.18 L749.84,295.22 L750.13,294.27 L750.42,293.31 L750.70,292.35 L750.98,291.40 L751.26,290.44 L751.53,289.48 L751.80,288.52 L752.07,287.56 L752.34,286.60 L752.60,285.64 L752.86,284.67 L753.11,283.71 L753.37,282.74 L753.62,281.78 L753.87,280.81 L754.11,279.84 L754.35,278.87 L754.60,277.90 L754.83,276.93 L755.07,275.96 L755.30,274.99 L755.53,274.02 L755.76,273.05 L755.99,272.07 L756.21,271.10 L756.43,270.12 L756.66,269.15 L756.87,268.17 L757.09,267.20 L757.30,266.22 L757.51,265.24 L757.73,264.26 L757.93,263.28 L758.14,262.31 L758.34,261.33 L758.55,260.34 L758.75,259.36 L758.95,258.38 L759.15,257.40 L759.34,256.42 L759.54,255.44 L759.73,254.45 L759.93,253.47 L760.12,252.49 L760.31,251.50 L760.49,250.52 L760.68,249.53 L760.87,248.55 L761.05,247.56 L761.24,246.58 L761.42,245.59 L761.60,244.61 L761.78,243.62 L761.96,242.64 L762.14,241.65 L762.32,240.66 L762.50,239.68 L762.68,238.69 L762.85,237.70 L763.03,236.72 L763.20,235.73 L763.38,234.74 L763.55,233.75 L763.72,232.77 L763.90,231.78 L764.07,230.79 L764.24,229.81 L764.42,228.82 L764.59,227.83 L764.76,226.85 L764.93,225.86 L765.10,224.87 L765.27,223.88 L765.44,222.90 L765.61,221.91 L765.78,220.92 L765.95,219.94 L766.12,218.95 L766.29,217.96 L766.46,216.98 L766.63,215.99 L766.80,215.00 L766.97,214.02 L767.14,213.03 L767.30,212.04 L767.47,211.06 L767.64,210.07 L767.80,209.09 L767.97,208.10 L768.14,207.11 L768.30,206.13 L768.47,205.14 L768.64,204.15 L768.80,203.17 L768.97,202.18 L769.13,201.19 L769.29,200.21 L769.46,199.22 L769.62,198.23 L769.79,197.25 L769.95,196.26 L770.11,195.27 L770.28,194.29 L770.44,193.30 L770.60,192.31 L770.76,191.33 L770.92,190.34 L771.09,189.35 L771.25,188.37 L771.41,187.38 L771.57,186.39 L771.73,185.41 L771.89,184.42 L772.05,183.43 L772.21,182.45 L772.37,181.46 L772.53,180.47 L772.69,179.48 L772.85,178.50 L773.00,177.51 L773.16,176.52 L773.32,175.54 L773.48,174.55 L773.63,173.56 L773.79,172.57 L773.95,171.59 L774.11,170.60 L774.26,169.61 L774.42,168.62 L774.57,167.63 L774.73,166.65 L774.88,165.66 L775.04,164.67 L775.19,163.68 L775.35,162.70 L775.50,161.71 L775.66,160.72 L775.81,159.73 L775.96,158.74 L776.12,157.75 L776.27,156.77 L776.42,155.78 L776.57,154.79 L776.73,153.80 L776.88,152.81 L777.03,151.82 L777.18,150.83 L777.33,149.84 L777.48,148.86 L777.63,147.87 L777.78,146.88 L777.93,145.89 L778.08,144.90 L778.23,143.91 L778.38,142.92 L778.53,141.93 L778.68,140.94 L778.83,139.95 L778.98,138.96 L779.13,137.97 L779.27,136.99 L779.42,136.00 L779.57,135.01 L779.71,134.02 L779.86,133.03 L780.01,132.04 L780.15,131.05 L780.30,130.06 L780.45,129.07 L780.59,128.08 L780.74,127.09 L780.88,126.10 L781.03,125.11 L781.17,124.12 L781.31,123.13 L781.46,122.14 L781.60,121.15 L781.75,120.16 L781.89,119.17 L782.03,118.18 L782.17,117.19 L782.32,116.20 L782.46,115.21 L782.60,114.22 L782.74,113.23 L782.88,112.23 L783.02,111.24 L783.16,110.25 L783.31,109.26 L783.45,108.27 L783.59,107.28 L783.73,106.29 L783.87,105.30 L784.00,104.31 L784.14,103.32 L784.28,102.33 L784.42,101.34 L784.56,100.35 L784.70,99.36 L784.83,98.36 L784.97,97.37 L785.11,96.38 L785.24,95.39 L785.38,94.40 L785.52,93.41 L785.65,92.42 L785.79,91.43 L785.92,90.44 L786.06,89.44 L786.19,88.45 L786.33,87.46 L786.46,86.47 L786.59,85.48 L786.73,84.49 L786.86,83.50 L786.99,82.50 L787.12,81.51 L787.25,80.52 L787.39,79.53 L787.52,78.54 L787.65,77.55 L787.78,76.55 L787.91,75.56 L788.04,74.57 L788.16,73.58 L788.29,72.59 L788.42,71.59 L788.55,70.60 L788.67,69.61 L788.80,68.62 L788.93,67.62 L789.05,66.63 L789.18,65.64 L789.30,64.65 L789.43,63.66 L789.55,62.66 L789.68,61.67 L789.80,60.68 L789.92,59.68 L790.05,58.69 L790.17,57.70 L790.29,56.71 L790.41,55.71 L790.53,54.72 L790.65,53.73 L790.77,52.73 L790.89,51.74 L791.01,50.75 L791.13,49.75 L791.24,48.76 L791.36,47.77 L791.48,46.77 L791.59,45.78 L791.71,44.79 L791.82,43.79 L791.94,42.80 L792.05,41.81 L792.17,40.81 L792.28,39.82 L792.40,38.82 L792.51,37.83 L792.62,36.84 L792.73,35.84 L792.85,34.85 L792.96,33.85 L793.07,32.86 L793.18,31.87 L793.29,30.87 L793.40,29.88 L793.51,28.88 L793.62,27.89 L793.73,26.89 L793.84,25.90 L793.95,24.91 L794.06,23.91 L794.17,22.92 L794.28,21.92 L794.39,20.93 L794.50,19.93 L794.61,18.94 L794.72,17.94 L794.83,16.95 L794.93,15.96 L795.04,14.96 L795.15,13.97 L795.26,12.97 L795.37,11.98 L795.48,10.98 L795.59,9.99 L795.69,8.99 L795.80,8.00"/>
</g></g>
<g stroke="#000">
<line x1="77.50" y1="476.0" x2="77.50" y2="471.70" stroke-width="1.8"/>
<line x1="77.50" y1="16.6" x2="77.50" y2="21.80" stroke-width="1.8"/>
<line x1="114.68" y1="476.0" x2="114.68" y2="473.60" stroke-width="1.7"/>
<line x1="114.68" y1="16.6" x2="114.68" y2="19.90" stroke-width="1.7"/>
<line x1="151.86" y1="476.0" x2="151.86" y2="473.60" stroke-width="1.7"/>
<line x1="151.86" y1="16.6" x2="151.86" y2="19.90" stroke-width="1.7"/>
<line x1="189.04" y1="476.0" x2="189.04" y2="473.60" stroke-width="1.7"/>
<line x1="189.04" y1="16.6" x2="189.04" y2="19.90" stroke-width="1.7"/>
<line x1="226.22" y1="476.0" x2="226.22" y2="473.60" stroke-width="1.7"/>
<line x1="226.22" y1="16.6" x2="226.22" y2="19.90" stroke-width="1.7"/>
<line x1="263.40" y1="476.0" x2="263.40" y2="471.70" stroke-width="1.8"/>
<line x1="263.40" y1="16.6" x2="263.40" y2="21.80" stroke-width="1.8"/>
<line x1="300.58" y1="476.0" x2="300.58" y2="473.60" stroke-width="1.7"/>
<line x1="300.58" y1="16.6" x2="300.58" y2="19.90" stroke-width="1.7"/>
<line x1="337.76" y1="476.0" x2="337.76" y2="473.60" stroke-width="1.7"/>
<line x1="337.76" y1="16.6" x2="337.76" y2="19.90" stroke-width="1.7"/>
<line x1="374.94" y1="476.0" x2="374.94" y2="473.60" stroke-width="1.7"/>
<line x1="374.94" y1="16.6" x2="374.94" y2="19.90" stroke-width="1.7"/>
<line x1="412.12" y1="476.0" x2="412.12" y2="473.60" stroke-width="1.7"/>
<line x1="412.12" y1="16.6" x2="412.12" y2="19.90" stroke-width="1.7"/>
<line x1="449.30" y1="476.0" x2="449.30" y2="471.70" stroke-width="1.8"/>
<line x1="449.30" y1="16.6" x2="449.30" y2="21.80" stroke-width="1.8"/>
<line x1="486.48" y1="476.0" x2="486.48" y2="473.60" stroke-width="1.7"/>
<line x1="486.48" y1="16.6" x2="486.48" y2="19.90" stroke-width="1.7"/>
<line x1="523.66" y1="476.0" x2="523.66" y2="473.60" stroke-width="1.7"/>
<line x1="523.66" y1="16.6" x2="523.66" y2="19.90" stroke-width="1.7"/>
<line x1="560.84" y1="476.0" x2="560.84" y2="473.60" stroke-width="1.7"/>
<line x1="560.84" y1="16.6" x2="560.84" y2="19.90" stroke-width="1.7"/>
<line x1="598.02" y1="476.0" x2="598.02" y2="473.60" stroke-width="1.7"/>
<line x1="598.02" y1="16.6" x2="598.02" y2="19.90" stroke-width="1.7"/>
<line x1="635.20" y1="476.0" x2="635.20" y2="471.70" stroke-width="1.8"/>
<line x1="635.20" y1="16.6" x2="635.20" y2="21.80" stroke-width="1.8"/>
<line x1="672.38" y1="476.0" x2="672.38" y2="473.60" stroke-width="1.7"/>
<line x1="672.38" y1="16.6" x2="672.38" y2="19.90" stroke-width="1.7"/>
<line x1="709.56" y1="476.0" x2="709.56" y2="473.60" stroke-width="1.7"/>
<line x1="709.56" y1="16.6" x2="709.56" y2="19.90" stroke-width="1.7"/>
<line x1="746.74" y1="476.0" x2="746.74" y2="473.60" stroke-width="1.7"/>
<line x1="746.74" y1="16.6" x2="746.74" y2="19.90" stroke-width="1.7"/>
<line x1="783.92" y1="476.0" x2="783.92" y2="473.60" stroke-width="1.7"/>
<line x1="783.92" y1="16.6" x2="783.92" y2="19.90" stroke-width="1.7"/>
<line x1="821.10" y1="476.0" x2="821.10" y2="471.70" stroke-width="1.8"/>
<line x1="821.10" y1="16.6" x2="821.10" y2="21.80" stroke-width="1.8"/>
<line x1="77.5" y1="476.30" x2="82.00" y2="476.30" stroke-width="1.8"/>
<line x1="821.1" y1="476.30" x2="816.20" y2="476.30" stroke-width="1.8"/>
<line x1="77.5" y1="457.93" x2="80.10" y2="457.93" stroke-width="1.7"/>
<line x1="821.1" y1="457.93" x2="817.90" y2="457.93" stroke-width="1.7"/>
<line x1="77.5" y1="439.56" x2="80.10" y2="439.56" stroke-width="1.7"/>
<line x1="821.1" y1="439.56" x2="817.90" y2="439.56" stroke-width="1.7"/>
<line x1="77.5" y1="421.18" x2="80.10" y2="421.18" stroke-width="1.7"/>
<line x1="821.1" y1="421.18" x2="817.90" y2="421.18" stroke-width="1.7"/>
<line x1="77.5" y1="402.81" x2="80.10" y2="402.81" stroke-width="1.7"/>
<line x1="821.1" y1="402.81" x2="817.90" y2="402.81" stroke-width="1.7"/>
<line x1="77.5" y1="384.44" x2="82.00" y2="384.44" stroke-width="1.8"/>
<line x1="821.1" y1="384.44" x2="816.20" y2="384.44" stroke-width="1.8"/>
<line x1="77.5" y1="366.07" x2="80.10" y2="366.07" stroke-width="1.7"/>
<line x1="821.1" y1="366.07" x2="817.90" y2="366.07" stroke-width="1.7"/>
<line x1="77.5" y1="347.70" x2="80.10" y2="347.70" stroke-width="1.7"/>
<line x1="821.1" y1="347.70" x2="817.90" y2="347.70" stroke-width="1.7"/>
<line x1="77.5" y1="329.32" x2="80.10" y2="329.32" stroke-width="1.7"/>
<line x1="821.1" y1="329.32" x2="817.90" y2="329.32" stroke-width="1.7"/>
<line x1="77.5" y1="310.95" x2="80.10" y2="310.95" stroke-width="1.7"/>
<line x1="821.1" y1="310.95" x2="817.90" y2="310.95" stroke-width="1.7"/>
<line x1="77.5" y1="292.58" x2="82.00" y2="292.58" stroke-width="1.8"/>
<line x1="821.1" y1="292.58" x2="816.20" y2="292.58" stroke-width="1.8"/>
<line x1="77.5" y1="274.21" x2="80.10" y2="274.21" stroke-width="1.7"/>
<line x1="821.1" y1="274.21" x2="817.90" y2="274.21" stroke-width="1.7"/>
<line x1="77.5" y1="255.84" x2="80.10" y2="255.84" stroke-width="1.7"/>
<line x1="821.1" y1="255.84" x2="817.90" y2="255.84" stroke-width="1.7"/>
<line x1="77.5" y1="237.46" x2="80.10" y2="237.46" stroke-width="1.7"/>
<line x1="821.1" y1="237.46" x2="817.90" y2="237.46" stroke-width="1.7"/>
<line x1="77.5" y1="219.09" x2="80.10" y2="219.09" stroke-width="1.7"/>
<line x1="821.1" y1="219.09" x2="817.90" y2="219.09" stroke-width="1.7"/>
<line x1="77.5" y1="200.72" x2="82.00" y2="200.72" stroke-width="1.8"/>
<line x1="821.1" y1="200.72" x2="816.20" y2="200.72" stroke-width="1.8"/>
<line x1="77.5" y1="182.35" x2="80.10" y2="182.35" stroke-width="1.7"/>
<line x1="821.1" y1="182.35" x2="817.90" y2="182.35" stroke-width="1.7"/>
<line x1="77.5" y1="163.98" x2="80.10" y2="163.98" stroke-width="1.7"/>
<line x1="821.1" y1="163.98" x2="817.90" y2="163.98" stroke-width="1.7"/>
<line x1="77.5" y1="145.60" x2="80.10" y2="145.60" stroke-width="1.7"/>
<line x1="821.1" y1="145.60" x2="817.90" y2="145.60" stroke-width="1.7"/>
<line x1="77.5" y1="127.23" x2="80.10" y2="127.23" stroke-width="1.7"/>
<line x1="821.1" y1="127.23" x2="817.90" y2="127.23" stroke-width="1.7"/>
<line x1="77.5" y1="108.86" x2="82.00" y2="108.86" stroke-width="1.8"/>
<line x1="821.1" y1="108.86" x2="816.20" y2="108.86" stroke-width="1.8"/>
<line x1="77.5" y1="90.49" x2="80.10" y2="90.49" stroke-width="1.7"/>
<line x1="821.1" y1="90.49" x2="817.90" y2="90.49" stroke-width="1.7"/>
<line x1="77.5" y1="72.12" x2="80.10" y2="72.12" stroke-width="1.7"/>
<line x1="821.1" y1="72.12" x2="817.90" y2="72.12" stroke-width="1.7"/>
<line x1="77.5" y1="53.74" x2="80.10" y2="53.74" stroke-width="1.7"/>
<line x1="821.1" y1="53.74" x2="817.90" y2="53.74" stroke-width="1.7"/>
<line x1="77.5" y1="35.37" x2="80.10" y2="35.37" stroke-width="1.7"/>
<line x1="821.1" y1="35.37" x2="817.90" y2="35.37" stroke-width="1.7"/>
<line x1="77.5" y1="17.00" x2="82.00" y2="17.00" stroke-width="1.8"/>
<line x1="821.1" y1="17.00" x2="816.20" y2="17.00" stroke-width="1.8"/>
</g>
<g fill="#000">
<rect x="76.45" y="15.65" width="2.1" height="461.55"/>
<rect x="820.1" y="15.65" width="2.0" height="461.55"/>
<rect x="76.45" y="15.65" width="745.65" height="2.1"/>
<rect x="76.45" y="475.5" width="745.65" height="1.75"/>
</g>
<g>
<text transform="translate(72.3,487.70) scale(0.97,1.02)" text-anchor="end">0</text>
<text transform="translate(72.3,395.82) scale(0.97,1.02)" text-anchor="end">5</text>
<text transform="translate(72.3,303.94) scale(0.97,1.02)" text-anchor="end">10</text>
<text transform="translate(72.3,212.06) scale(0.97,1.02)" text-anchor="end">15</text>
<text transform="translate(72.3,120.18) scale(0.97,1.02)" text-anchor="end">20</text>
<text transform="translate(72.3,28.30) scale(0.97,1.02)" text-anchor="end">25</text>
<text transform="translate(76.90,509.7) scale(0.97,1.02)" text-anchor="middle">0</text>
<text transform="translate(262.80,509.7) scale(0.97,1.02)" text-anchor="middle">1</text>
<text transform="translate(448.70,509.7) scale(0.97,1.02)" text-anchor="middle">2</text>
<text transform="translate(634.60,509.7) scale(0.97,1.02)" text-anchor="middle">3</text>
<text transform="translate(820.50,509.7) scale(0.97,1.02)" text-anchor="middle">4</text>
</g>
<text class="bi" x="449.3" y="551.5" text-anchor="middle">gt</text>
<g transform="translate(28.5,342.7) rotate(-90)">
<rect x="0" y="-20.5" width="3.2" height="24.4"/>
<rect x="189.3" y="-20.5" width="3.2" height="24.4"/>
<g fill="none" stroke="#000" stroke-width="2.7" stroke-linejoin="miter" stroke-linecap="butt"><polyline points="14.30,-20.1 7.90,-8.15 14.30,3.8" /><polyline points="64.70,-20.1 71.10,-8.15 64.70,3.8" /><polyline points="104.35,-20.1 97.95,-8.15 104.35,3.8" /><polyline points="138.80,-20.1 145.20,-8.15 138.80,3.8" /><polyline points="157.90,-20.1 151.50,-8.15 157.90,3.8" /><polyline points="177.90,-20.1 184.30,-8.15 177.90,3.8" /></g>
<rect x="78" y="-9.45" width="16.1" height="2.9"/>
<text class="bi" x="16.3" y="0">a</text>
<text class="bi" x="106.2" y="0">a</text>
<text class="bi" x="48.0" y="0">b</text>
<text class="bi" x="160.2" y="0">b</text>
<text class="dg" x="34.3" y="-10.6">†</text>
<text class="dg" x="124.1" y="-10.6">†</text>
</g>
</svg>
</body></html>
